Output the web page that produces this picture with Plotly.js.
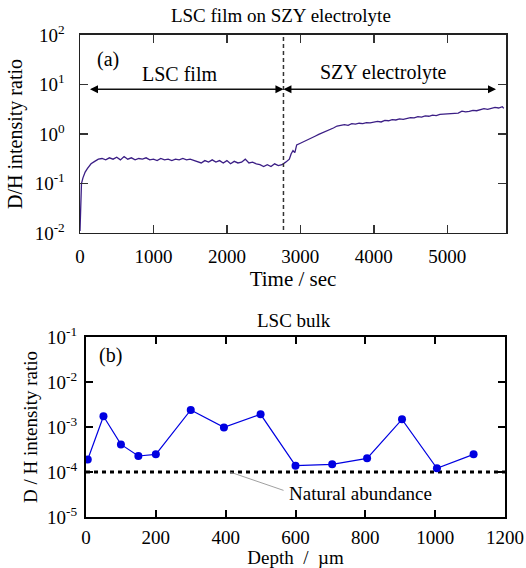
<!DOCTYPE html>
<html>
<head>
<meta charset="utf-8">
<script src="https://cdn.plot.ly/plotly-3.0.1.min.js"></script>
<style>html,body{margin:0;padding:0;background:#fff;}#chart{width:526px;height:568px;}</style>
</head>
<body>
<div id="chart"></div>
<script>
// (a) LSC film on SZY electrolyte: time (s) vs D/H intensity ratio
var timeSec = [0,10,20,40,70,100,150,200,250,300,350,400,450,500,550,600,650,700,750,800,850,900,950,1000,1050,1100,1150,1200,1250,1300,1350,1400,1450,1500,1550,1600,1650,1700,1750,1800,1850,1900,1950,2000,2050,2100,2150,2200,2250,2300,2350,2400,2450,2500,2550,2600,2650,2700,2750,2800,2850,2875,2900,2925,2950,3000,3050,3100,3150,3200,3250,3300,3350,3400,3450,3500,3550,3600,3650,3700,3750,3800,3850,3900,3950,4000,4050,4100,4150,4200,4250,4300,4350,4400,4450,4500,4550,4600,4650,4700,4750,4800,4850,4900,4950,5000,5050,5100,5150,5200,5250,5300,5350,5400,5450,5500,5550,5600,5650,5700,5750,5770];
var ratioFilm = [0.011,0.05,0.1,0.13,0.17,0.2,0.25,0.28,0.31,0.32,0.30,0.33,0.31,0.34,0.30,0.35,0.31,0.33,0.30,0.32,0.31,0.33,0.30,0.31,0.29,0.32,0.30,0.31,0.29,0.31,0.30,0.32,0.30,0.31,0.29,0.28,0.26,0.29,0.27,0.30,0.27,0.29,0.26,0.29,0.25,0.28,0.26,0.27,0.31,0.26,0.27,0.25,0.24,0.22,0.24,0.22,0.25,0.23,0.24,0.27,0.31,0.40,0.46,0.42,0.60,0.65,0.70,0.76,0.82,0.90,0.98,1.05,1.15,1.25,1.32,1.45,1.50,1.55,1.50,1.62,1.58,1.65,1.62,1.70,1.68,1.72,1.80,1.75,1.88,1.85,1.95,1.92,2.02,1.98,2.10,2.15,2.12,2.25,2.20,2.32,2.28,2.40,2.35,2.48,2.52,2.55,2.60,2.70,2.65,2.90,2.80,2.85,3.00,2.95,3.10,3.25,3.15,3.30,3.45,3.35,3.55,3.30];
var interfaceTime = 2770;

// (b) LSC bulk: depth (um) vs D/H intensity ratio
var depthUm = [5,50,100,150,200,300,395,500,600,705,805,905,1005,1110];
var ratioBulk = [1.9e-4,1.73e-3,4.1e-4,2.27e-4,2.47e-4,2.39e-3,9.8e-4,1.91e-3,1.38e-4,1.48e-4,2.01e-4,1.48e-3,1.21e-4,2.47e-4];
var naturalX = [0,1200];
var naturalY = [1e-4,1e-4];

var topTickVals = [0.01,0.1,1,10,100];
var topTickText = ['10<sup>-2</sup>','10<sup>-1</sup>','10<sup>0</sup>','10<sup>1</sup>','10<sup>2</sup>'];
var botTickVals = [1e-5,1e-4,1e-3,1e-2,1e-1];
var botTickText = ['10<sup>-5</sup>','10<sup>-4</sup>','10<sup>-3</sup>','10<sup>-2</sup>','10<sup>-1</sup>'];

var FONT = 'Times New Roman, Liberation Serif, DejaVu Serif, serif';

var traces = [
  {x: timeSec, y: ratioFilm, xaxis:'x', yaxis:'y', mode:'lines',
   line:{color:'#3b1e85', width:1.3}, hoverinfo:'x+y', showlegend:false},
  {x: naturalX, y: naturalY, xaxis:'x2', yaxis:'y2', mode:'lines',
   line:{color:'#000', width:3, dash:'4px,4px'}, showlegend:false},
  {x: depthUm, y: ratioBulk, xaxis:'x2', yaxis:'y2', mode:'lines+markers',
   line:{color:'rgb(0,0,225)', width:1.2}, marker:{color:'rgb(0,0,225)', size:8}, showlegend:false}
];

var axTop = {color:'#222', linewidth:1.5, mirror:'ticks', ticks:'inside', ticklen:8, tickwidth:1.5, tickcolor:'#333', showgrid:false, zeroline:false, showline:true, tickfont:{family:FONT, size:19, color:'#000'}};

function lbl(x, y, text, size) {
  return {xref:'paper', yref:'paper', x:x, y:y, xanchor:'center', yanchor:'middle', text:text, showarrow:false, font:{family:FONT, size:size, color:'#000'}};
}
function arrow(xHead, xTail, yLog) {
  return {xref:'x', yref:'y', x:xHead, y:yLog, axref:'x', ayref:'y', ax:xTail, ay:yLog, text:'', showarrow:true, arrowhead:2, arrowsize:1.6, arrowwidth:1, arrowcolor:'#000', standoff:0, startstandoff:0};
}

var layout = {
  width:526, height:568,
  margin:{l:0,r:0,t:0,b:0},
  paper_bgcolor:'#fff', plot_bgcolor:'#fff',
  font:{family:FONT, color:'#000'},
  title:{text:'LSC film on SZY electrolyte', font:{family:FONT, size:19, color:'#000'}, x:0.534, xref:'paper', xanchor:'center', y:0.9736, yref:'paper', yanchor:'middle'},
  xaxis: Object.assign({}, axTop, {domain:[0.1521,0.962], anchor:'y', range:[0,5800], tickvals:[0,1000,2000,3000,4000,5000], ticklabelstandoff:6,
    title:{text:'Time / sec', font:{family:FONT, size:21, color:'#000'}, standoff:4}}),
  yaxis: Object.assign({}, axTop, {domain:[0.5898,0.9384], anchor:'x', type:'log', range:[-2,2], tickmode:'array', tickvals:topTickVals, ticktext:topTickText, ticklabelstandoff:10,
    title:{text:'D/H intensity ratio', font:{family:FONT, size:20, color:'#000'}, standoff:6}}),
  xaxis2: {domain:[0.1635,0.9601], anchor:'y2', range:[0,1200], tickvals:[0,200,400,600,800,1000,1200], color:'#000', linewidth:2, mirror:'ticks', ticks:'inside', ticklen:7, tickwidth:2, tickcolor:'#000', showgrid:false, zeroline:false, showline:true, ticklabelstandoff:2, tickfont:{family:FONT, size:19, color:'#000'},
    title:{text:'Depth  /  \u00b5m', font:{family:FONT, size:19, color:'#000'}, standoff:2}},
  yaxis2: {domain:[0.0898,0.4067], anchor:'x2', type:'log', range:[-5,-1], tickmode:'array', tickvals:botTickVals, ticktext:botTickText, color:'#000', linewidth:2, mirror:'ticks', ticks:'inside', ticklen:7, tickwidth:2, tickcolor:'#000', showgrid:false, zeroline:false, showline:true, ticklabelstandoff:3, tickfont:{family:FONT, size:19, color:'#000'},
    title:{text:'D / H intensity ratio', font:{family:FONT, size:19, color:'#000'}, standoff:4}},
  shapes:[
    {type:'line', xref:'x', yref:'y domain', x0:interfaceTime, x1:interfaceTime, y0:0.015, y1:1, line:{color:'#333', width:1.5, dash:'4px,3px'}}
  ],
  annotations:[
    lbl(0.205, 0.896, '(a)', 20),
    lbl(0.342, 0.870, 'LSC film', 20),
    lbl(0.730, 0.8715, 'SZY electrolyte', 20),
    arrow(interfaceTime, 136, 0.904),
    arrow(136, interfaceTime, 0.904),
    arrow(interfaceTime, 5664, 0.904),
    arrow(5664, interfaceTime, 0.904),
    lbl(0.559, 0.435, 'LSC bulk', 19),
    lbl(0.211, 0.375, '(b)', 20),
    {xref:'x2', yref:'y2', x:412, y:-4, axref:'x2', ayref:'y2', ax:570, ay:-4.42, text:'', showarrow:true, arrowhead:0, arrowwidth:0.8, arrowcolor:'#888', standoff:0, startstandoff:0},
    {xref:'x2', yref:'y2', x:785, y:-4.47, xanchor:'center', yanchor:'middle', text:'Natural abundance', showarrow:false, font:{family:FONT, size:19, color:'#000'}}
  ]
};

Plotly.newPlot('chart', traces, layout, {displayModeBar:false, staticPlot:true});
</script>
</body>
</html>
